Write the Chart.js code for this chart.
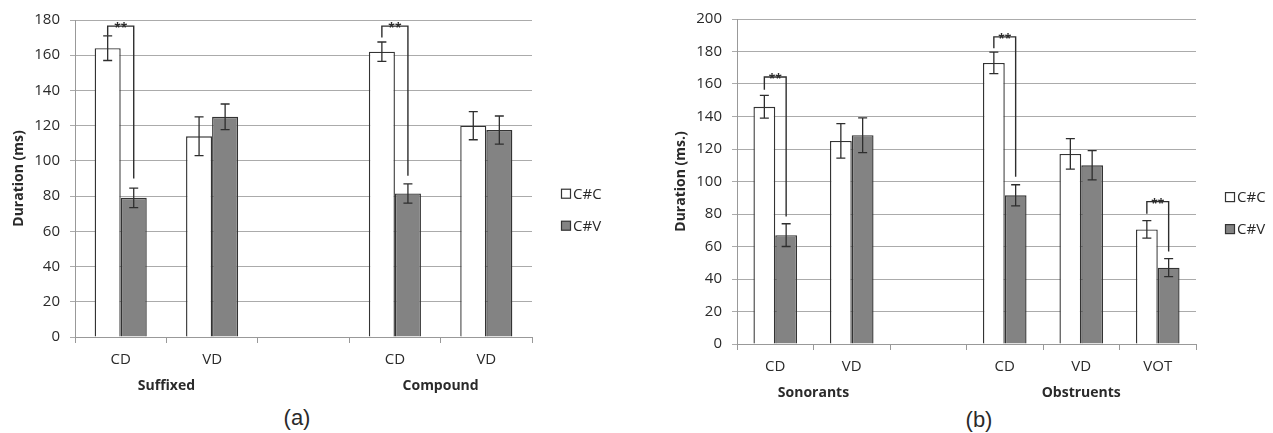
<!DOCTYPE html>
<html>
<head>
<meta charset="utf-8">
<script src="https://cdn.jsdelivr.net/npm/chart.js@4.4.1/dist/chart.umd.min.js"></script>
<style>
    body { margin: 0; background: #fff; }
    #wrap { position: relative; width: 1273px; height: 433px; overflow: hidden; }
    .panel { position: absolute; top: 0; }
    .cap { position: absolute; font-family: "Liberation Sans", Arial, sans-serif; font-size: 22px; color: #2a2a2a; transform: translate(-50%, -50%); }
</style>
</head>
<body>
<div id="wrap">
    <div class="panel" style="left:0px"><canvas id="chartA" width="640" height="400"></canvas></div>
    <div class="panel" style="left:662px"><canvas id="chartB" width="611" height="400"></canvas></div>
    <div class="cap" style="left:297px; top:418px">(a)</div>
    <div class="cap" style="left:979px; top:420px">(b)</div>
</div>
<script>
// panel (a)
const aCategories = ['CD', 'VD', '', 'CD', 'VD'];
const aGroups = [
    { label: 'Suffixed', from: 0, to: 1 },
    { label: 'Compound', from: 3, to: 4 }
];
const aCC = [164, 114, null, 162, 120];
const aCV = [79, 125, null, 81.5, 117.5];
const aErrCC = [7, 11, null, 5.5, 8];
const aErrCV = [5.5, 7.3, null, 5.5, 8];
// significance brackets: category, top, left leg end, right leg end
const aBrackets = [
    { cat: 0, top: 176.5, left: 171, right: 90 },
    { cat: 3, top: 176.5, left: 170, right: 91.5 }
];

// panel (b)
const bCategories = ['CD', 'VD', '', 'CD', 'VD', 'VOT'];
const bGroups = [
    { label: 'Sonorants', from: 0, to: 1 },
    { label: 'Obstruents', from: 3, to: 5 }
];
const bCC = [146, 125, null, 173, 117, 70.5];
const bCV = [67, 128.5, null, 91.5, 110, 47];
const bErrCC = [7, 10.6, null, 6.6, 9.4, 5.4];
const bErrCV = [7, 10.7, null, 6.5, 9, 5.5];
const bBrackets = [
    { cat: 0, top: 164.3, left: 156.5, right: 78.5 },
    { cat: 3, top: 189, left: 182, right: 103 },
    { cat: 5, top: 87.6, left: 80.2, right: 57 }
];

const seriesNames = ['C#C', 'C#V'];
const textColor = '#2a2a2a';
const fontFam = '"Open Sans", "DejaVu Sans", sans-serif';

function makeDecor(errs, brackets, groups) {
    return {
        id: 'decor',
        afterDatasetsDraw(chart) {
            const ctx = chart.ctx;
            const y = chart.scales.y;
            ctx.save();
            ctx.strokeStyle = '#2e2e2e';
            ctx.lineWidth = 1.3;
            // error bars
            chart.data.datasets.forEach((ds, i) => {
                const meta = chart.getDatasetMeta(i);
                ds.data.forEach((v, j) => {
                    if (v === null) return;
                    const e = errs[i][j];
                    const x = meta.data[j].x;
                    const y1 = y.getPixelForValue(v + e);
                    const y2 = y.getPixelForValue(v - e);
                    ctx.beginPath();
                    ctx.moveTo(x, y1); ctx.lineTo(x, y2);
                    ctx.moveTo(x - 4.5, y1); ctx.lineTo(x + 4.5, y1);
                    ctx.moveTo(x - 4.5, y2); ctx.lineTo(x + 4.5, y2);
                    ctx.stroke();
                });
            });
            // brackets with stars
            const m0 = chart.getDatasetMeta(0);
            const m1 = chart.getDatasetMeta(1);
            ctx.lineWidth = 1.4;
            ctx.fillStyle = '#2e2e2e';
            ctx.font = 'bold 12px ' + fontFam;
            ctx.textAlign = 'center';
            ctx.textBaseline = 'alphabetic';
            brackets.forEach(b => {
                const xl = m0.data[b.cat].x;
                const xr = m1.data[b.cat].x;
                const yt = y.getPixelForValue(b.top);
                ctx.beginPath();
                ctx.moveTo(xl, y.getPixelForValue(b.left));
                ctx.lineTo(xl, yt);
                ctx.lineTo(xr, yt);
                ctx.lineTo(xr, y.getPixelForValue(b.right));
                ctx.stroke();
                ctx.fillText('**', (xl + xr) / 2, yt + 6);
            });
            ctx.restore();
        },
        afterDraw(chart) {
            const ctx = chart.ctx;
            const area = chart.chartArea;
            const x = chart.scales.x;
            ctx.save();
            ctx.fillStyle = textColor;
            // group labels under the categories
            ctx.font = 'bold 14px ' + fontFam;
            ctx.textAlign = 'center';
            ctx.textBaseline = 'middle';
            groups.forEach(g => {
                const cx = (x.getPixelForValue(g.from) + x.getPixelForValue(g.to)) / 2;
                ctx.fillText(g.label, cx, area.bottom + 49);
            });
            // legend
            ctx.font = '15px ' + fontFam;
            ctx.textAlign = 'left';
            chart.data.datasets.forEach((ds, i) => {
                const bx = area.right + 29;
                const by = area.top + 0.548 * (area.bottom - area.top) + i * 32;
                ctx.fillStyle = ds.backgroundColor;
                ctx.fillRect(bx, by - 4.5, 9, 9);
                ctx.strokeStyle = '#333';
                ctx.lineWidth = 1.2;
                ctx.strokeRect(bx + 0.5, by - 4.5, 9, 9);
                ctx.fillStyle = textColor;
                ctx.fillText(ds.label, bx + 12, by + 1);
            });
            ctx.restore();
        }
    };
}

function buildChart(id, labels, cc, cv, errs, brackets, groups, yMax, yTitle, padTop, padRight, xHeight) {
    const ctx = document.getElementById(id).getContext('2d');
    return new Chart(ctx, {
        type: 'bar',
        data: {
            labels: labels,
            datasets: [
                {
                    label: seriesNames[0],
                    data: cc,
                    backgroundColor: '#ffffff',
                    borderColor: '#333333',
                    borderWidth: 1.4
                },
                {
                    label: seriesNames[1],
                    data: cv,
                    backgroundColor: '#838383',
                    borderColor: '#333333',
                    borderWidth: 1.4
                }
            ]
        },
        options: {
            responsive: false,
            animation: false,
            devicePixelRatio: 1,
            layout: { padding: { top: padTop, right: padRight, left: 0, bottom: 0 } },
            datasets: { bar: { categoryPercentage: 0.57, barPercentage: 1.0 } },
            plugins: { legend: { display: false }, tooltip: { enabled: false } },
            scales: {
                x: {
                    afterFit: (s) => { s.height = xHeight; },
                    grid: { offset: true, drawOnChartArea: false, drawTicks: true, tickLength: 6, color: '#999' },
                    border: { display: true, color: '#999' },
                    ticks: { color: textColor, font: { family: fontFam, size: 15 }, padding: 8 }
                },
                y: {
                    min: 0,
                    max: yMax,
                    afterFit: (s) => { s.width = 75; },
                    grid: { color: '#ababab', tickLength: 5 },
                    border: { display: true, color: '#999' },
                    ticks: { stepSize: 20, color: textColor, font: { family: fontFam, size: 15 }, padding: 10 },
                    title: {
                        display: true,
                        text: yTitle,
                        color: textColor,
                        font: { family: fontFam, size: 14, weight: 'bold' },
                        padding: { top: 11, bottom: 0 }
                    }
                }
            }
        },
        plugins: [makeDecor(errs, brackets, groups)]
    });
}

buildChart('chartA', aCategories, aCC, aCV, [aErrCC, aErrCV], aBrackets, aGroups, 180, 'Duration (ms)', 20, 108, 63);
buildChart('chartB', bCategories, bCC, bCV, [bErrCC, bErrCV], bBrackets, bGroups, 200, 'Duration (ms.)', 19, 77, 56);
</script>
</body>
</html>
